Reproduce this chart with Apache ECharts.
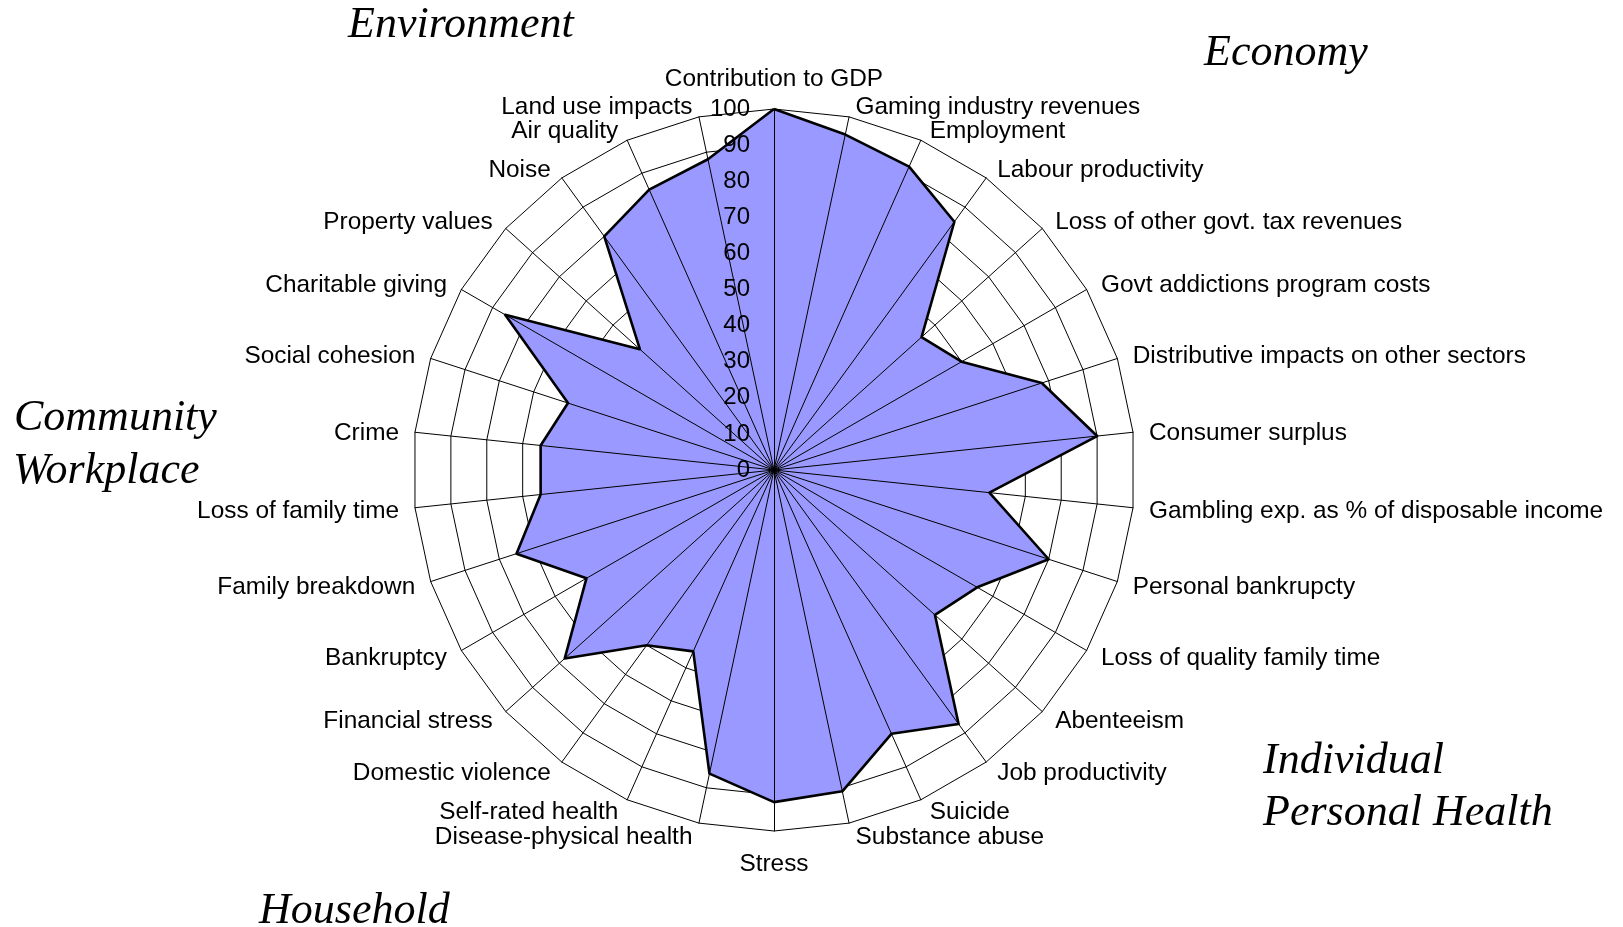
<!DOCTYPE html>
<html>
<head>
<meta charset="utf-8">
<script src="https://cdn.jsdelivr.net/npm/echarts@6/dist/echarts.min.js"></script>
<style>
  html, body { margin: 0; padding: 0; background: #ffffff; }
  #chart { width: 1623px; height: 927px; }
</style>
</head>
<body>
<div id="chart"></div>
<script>
// Impact categories, listed clockwise starting from the top spoke
const categories = [
  'Contribution to GDP',
  'Gaming industry revenues',
  'Employment',
  'Labour productivity',
  'Loss of other govt. tax revenues',
  'Govt addictions program costs',
  'Distributive impacts on other sectors',
  'Consumer surplus',
  'Gambling exp. as % of disposable income',
  'Personal bankrupcty',
  'Loss of quality family time',
  'Abenteeism',
  'Job productivity',
  'Suicide',
  'Substance abuse',
  'Stress',
  'Disease-physical health',
  'Self-rated health',
  'Domestic violence',
  'Financial stress',
  'Bankruptcy',
  'Family breakdown',
  'Loss of family time',
  'Crime',
  'Social cohesion',
  'Charitable giving',
  'Property values',
  'Noise',
  'Air quality',
  'Land use impacts'
];

// Score for each category (same order as above)
const scores = [
  100, 95, 92, 85, 55, 60, 78, 90, 60, 80,
  65, 60, 87, 80, 91, 92, 86, 55, 60, 78,
  60, 75, 65, 65, 60, 86, 50, 80, 85, 88
];

// Scale of the radial axis
const scaleMin = 0;
const scaleMax = 100;
const scaleSteps = 10;

// Group headings placed around the chart
const groupTitles = [
  'Environment',
  'Economy',
  'Community',
  'Workplace',
  'Individual',
  'Personal Health',
  'Household'
];

// ECharts lays radar indicators out counter-clockwise; reorder so the
// categories read clockwise from the top.
const count = categories.length;
const order = categories.map((_, i) => (count - i) % count);
const indicatorNames = order.map(i => categories[i]);
const indicatorValues = order.map(i => scores[i]);

const sansFont = '"Liberation Sans", Arial, Helvetica, sans-serif';
const serifFont = '"Liberation Serif", "Times New Roman", Times, serif';

const center = [774, 470];
const radius = 361;

function makeIndicators(withTickLabels) {
  return indicatorNames.map((name, k) => {
    const ind = { name: name, min: scaleMin, max: scaleMax };
    // the top and bottom names sit a little further from the ring
    if (k === 0) ind.nameGap = 18;
    if (k === count / 2) ind.nameGap = 17;
    if (withTickLabels && k === 0) {
      ind.axisLabel = {
        show: true,
        color: '#000',
        fontFamily: sansFont,
        fontSize: 24,
        margin: 24,
        showMinLabel: true,
        showMaxLabel: true
      };
    }
    return ind;
  });
}

const titleStyle = {
  fill: '#000',
  font: 'italic 44px ' + serifFont,
  verticalAlign: 'middle',
  align: 'left'
};

function title(text, x, y) {
  return { type: 'text', left: x, top: y - 22, z: 10, style: Object.assign({ text: text }, titleStyle) };
}

const chart = echarts.init(document.getElementById('chart'), null, { renderer: 'canvas' });

chart.setOption({
  animation: false,
  backgroundColor: '#ffffff',
  radar: [
    {
      // rings underneath the filled area
      center: center,
      radius: radius,
      startAngle: 90,
      shape: 'polygon',
      splitNumber: scaleSteps,
      indicator: makeIndicators(false),
      axisName: { show: false },
      axisLine: { show: false },
      axisTick: { show: false },
      axisLabel: { show: false },
      splitArea: { show: false },
      splitLine: { show: true, lineStyle: { color: '#000', width: 1 } },
      z: 0
    },
    {
      // spokes, category names and the scale drawn over the filled area
      center: center,
      radius: radius,
      startAngle: 90,
      shape: 'polygon',
      splitNumber: scaleSteps,
      indicator: makeIndicators(true),
      nameGap: 12,
      axisName: {
        show: true,
        color: '#000',
        fontFamily: sansFont,
        fontSize: 24.4,
        padding: [0, 4, 0, 4],
        formatter: name => '{n|' + name + '}',
        rich: {
          n: {
            color: '#000',
            fontFamily: sansFont,
            fontSize: 24.4,
            padding: [4, 0, 0, 0]
          }
        }
      },
      axisLine: { show: true, lineStyle: { color: '#000', width: 1 } },
      axisTick: { show: false },
      axisLabel: { show: false },
      splitArea: { show: false },
      splitLine: { show: false },
      z: 5
    }
  ],
  series: [
    {
      // filled area
      type: 'radar',
      radarIndex: 0,
      z: 2,
      symbol: 'none',
      lineStyle: { width: 0, opacity: 0 },
      areaStyle: { color: '#9999FF', opacity: 1 },
      data: [{ value: indicatorValues, name: 'Impacts' }]
    },
    {
      // outline drawn on top of the fill
      type: 'radar',
      radarIndex: 0,
      z: 3,
      symbol: 'none',
      lineStyle: { color: '#000', width: 2.6 },
      data: [{ value: indicatorValues, name: 'Impacts' }]
    }
  ],
  graphic: [
    title(groupTitles[0], 348, 25),
    title(groupTitles[1], 1204, 53),
    title(groupTitles[2], 14, 418),
    title(groupTitles[3], 13, 471),
    title(groupTitles[4], 1263, 761),
    title(groupTitles[5], 1263, 813),
    title(groupTitles[6], 259, 911)
  ]
});
</script>
</body>
</html>
